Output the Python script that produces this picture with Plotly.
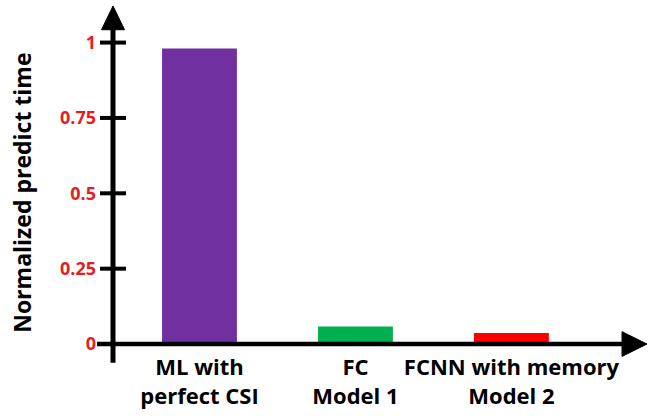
import plotly.graph_objects as go

# ---- data ----
categories = ["ML with<br>perfect CSI", "FC<br>Model 1", "FCNN with memory<br>Model 2"]
values = [0.98, 0.058, 0.037]
bar_colors = ["#7030A0", "#00B050", "#FF0000"]
tick_values = [0, 0.25, 0.5, 0.75, 1]
tick_labels = ["0", "0.25", "0.5", "0.75", "1"]
y_title = "Normalized predict time"

# ---- layout geometry (pixels) ----
W, H = 656, 416
L, R, T, B = 97, 9, 6, 64
PW, PH = W - L - R, H - T - B
Y_MIN, Y_MAX = -0.0131, 1.1213


def px(xpix):
    return (xpix - L) / PW


def py(ypix):
    return (H - B - ypix) / PH


FONT = "Open Sans"

fig = go.Figure()
fig.add_trace(go.Bar(
    x=categories, y=values, marker=dict(color=bar_colors, line=dict(width=0)),
    width=0.48, showlegend=False, hoverinfo="skip",
))

shapes = []
# y-axis line
shapes.append(dict(type="line", xref="paper", yref="paper",
                   x0=px(113), x1=px(113), y0=py(367), y1=py(26),
                   line=dict(color="black", width=5)))
# x-axis line (at y = 0)
shapes.append(dict(type="line", xref="paper", yref="y",
                   x0=px(97), x1=px(626), y0=0, y1=0,
                   line=dict(color="black", width=4.5)))
# y arrow head
shapes.append(dict(type="path", xref="paper", yref="paper",
                   path=f"M {px(113)},{py(6)} L {px(101.5)},{py(30)} L {px(124.5)},{py(30)} Z",
                   fillcolor="black", line=dict(color="black", width=1)))
# x arrow head
y0pix = 348
shapes.append(dict(type="path", xref="paper", yref="paper",
                   path=f"M {px(647)},{py(y0pix)} L {px(622)},{py(y0pix-12.5)} L {px(622)},{py(y0pix+12.5)} Z",
                   fillcolor="black", line=dict(color="black", width=1)))
# crossing tick marks on y axis
for tv in tick_values[1:]:
    shapes.append(dict(type="line", xref="paper", yref="y",
                       x0=px(100), x1=px(126), y0=tv, y1=tv,
                       line=dict(color="black", width=4)))

fig.update_layout(
    width=W, height=H,
    margin=dict(l=L, r=R, t=T, b=B),
    paper_bgcolor="white", plot_bgcolor="white",
    bargap=0.5,
    shapes=shapes,
    xaxis=dict(
        range=[-0.657, 2.869], showgrid=False, zeroline=False, showline=False,
        ticks="", tickfont=dict(family=FONT, size=22, color="black", weight="bold"),
        ticklabelstandoff=4,
    ),
    yaxis=dict(
        range=[Y_MIN, Y_MAX], showgrid=False, zeroline=False, showline=False,
        tickvals=tick_values, ticktext=tick_labels, ticks="",
        tickfont=dict(family=FONT, size=18, color="#E31E24", weight="bold"),
    ),
    annotations=[dict(
        text=y_title, xref="paper", yref="paper", x=px(22), y=py(195),
        xanchor="center", yanchor="middle", textangle=-90, showarrow=False,
        font=dict(family=FONT, size=23, color="black", weight="bold"),
    )],
)

fig.write_html("out.html", config={"displayModeBar": False},
               post_script="document.body.style.margin='0';")
